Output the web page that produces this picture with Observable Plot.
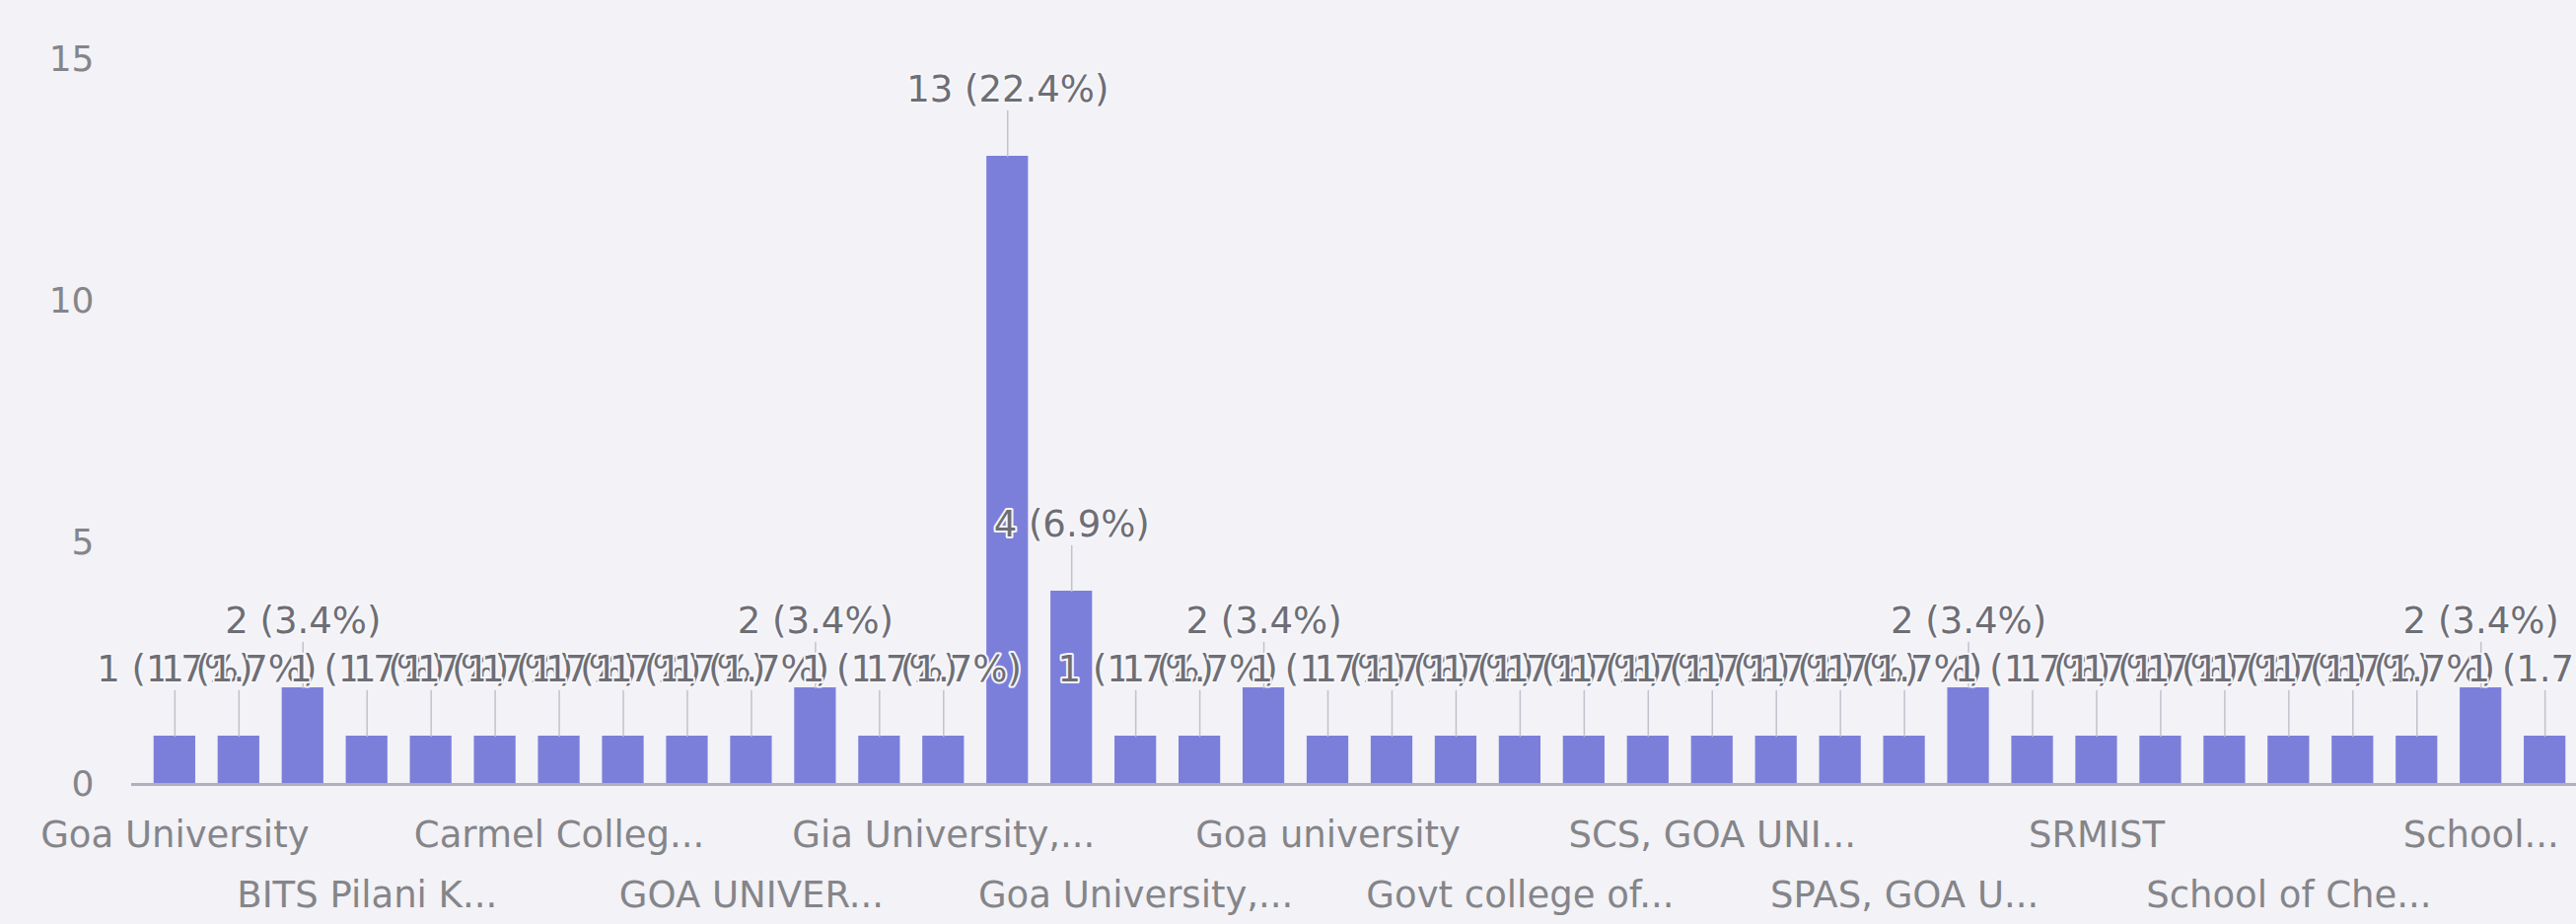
<!DOCTYPE html>
<html>
<head>
<meta charset="utf-8">
<script src="https://cdn.jsdelivr.net/npm/d3@7"></script>
<script src="https://cdn.jsdelivr.net/npm/@observablehq/plot@0.6"></script>
<style>
  html, body { margin: 0; padding: 0; background: #f2f2f7; }
  #chart svg { display: block; }
</style>
</head>
<body>
<div id="chart"></div>
<script>
// Categories (only every third label is visible in the reference; the others are unreadable)
const institutions = [
  "Goa University", "(unlabelled 2)", "(unlabelled 3)",
  "BITS Pilani K...", "(unlabelled 5)", "(unlabelled 6)",
  "Carmel Colleg...", "(unlabelled 8)", "(unlabelled 9)",
  "GOA UNIVER...", "(unlabelled 11)", "(unlabelled 12)",
  "Gia University,...", "(unlabelled 14)", "(unlabelled 15)",
  "Goa University,...", "(unlabelled 17)", "(unlabelled 18)",
  "Goa university", "(unlabelled 20)", "(unlabelled 21)",
  "Govt college of...", "(unlabelled 23)", "(unlabelled 24)",
  "SCS, GOA UNI...", "(unlabelled 26)", "(unlabelled 27)",
  "SPAS, GOA U...", "(unlabelled 29)", "(unlabelled 30)",
  "SRMIST", "(unlabelled 32)", "(unlabelled 33)",
  "School of Che...", "(unlabelled 35)", "(unlabelled 36)",
  "School...", "(unlabelled 38)"
];
// Response counts per category
const counts = [
  1, 1, 2, 1, 1, 1, 1, 1, 1, 1,
  2, 1, 1, 13, 4, 1, 1, 2, 1, 1,
  1, 1, 1, 1, 1, 1, 1, 1, 2, 1,
  1, 1, 1, 1, 1, 1, 2, 1
];
const yTicks = [0, 5, 10, 15];

const data = institutions.map((name, i) => ({name, count: counts[i]}));
const total = d3.sum(counts);
const labelOf = d => `${d.count} (${(d.count / total * 100).toFixed(1)}%)`;
const row1 = institutions.filter((d, i) => i % 6 === 0);
const row2 = institutions.filter((d, i) => i % 6 === 3);

const stem = {
  draw(context, length) {
    context.moveTo(0, 0);
    context.lineTo(0, -length);
  }
};

const FONT = "DejaVu Sans";
const chart = Plot.plot({
  width: 2612,
  height: 937,
  marginLeft: 133,
  marginRight: 0,
  marginTop: 60,
  marginBottom: 142,
  style: {background: "transparent", fontFamily: FONT, fontSize: "37px", color: "#808086", overflow: "hidden"},
  x: {domain: institutions, range: [133, 2624], padding: 0.35},
  y: {domain: [0, 15]},
  marks: [
    Plot.barY(data, {x: "name", y: "count", fill: "#7c7fda"}),
    Plot.ruleY([0], {stroke: "#b0b0bc", strokeWidth: 3}),
    Plot.vector(data, {x: "name", y: "count", length: 46, anchor: "start", shape: stem, stroke: "#c2c2cc", strokeWidth: 1.5}),
    Plot.text(data, {
      x: "name", y: "count", text: labelOf, dy: -56, lineAnchor: "bottom",
      fill: "#6e6e75", stroke: "#f6f6fa", strokeWidth: 4, paintOrder: "stroke",
      fontSize: 37, fontFamily: FONT
    }),
    Plot.axisY({ticks: yTicks, tickSize: 0, tickPadding: 38, label: null, fontSize: 36, fill: "#858589"}),
    Plot.axisX({ticks: row1, tickSize: 0, tickPadding: 37, label: null, fontSize: 37, fill: "#858589"}),
    Plot.axisX({ticks: row2, tickSize: 0, tickPadding: 98, label: null, fontSize: 37, fill: "#858589"})
  ]
});
document.getElementById("chart").append(chart);
</script>
</body>
</html>
